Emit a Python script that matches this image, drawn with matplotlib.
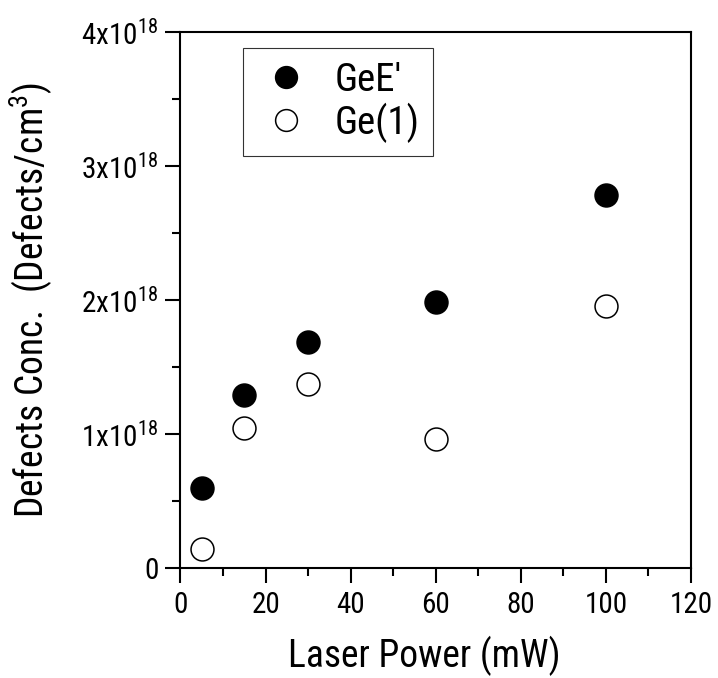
import matplotlib
matplotlib.use("Agg")
import matplotlib.pyplot as plt
from matplotlib.ticker import MultipleLocator, FixedLocator

power = [5, 15, 30, 60, 100]
gee = [0.60e18, 1.29e18, 1.69e18, 1.985e18, 2.78e18]
ge1 = [0.14e18, 1.045e18, 1.37e18, 0.96e18, 1.955e18]
yticks = [0, 1e18, 2e18, 3e18, 4e18]
ylabels = ["0", r"1x10$^{18}$", r"2x10$^{18}$", r"3x10$^{18}$", r"4x10$^{18}$"]

font = 'Roboto Condensed'
plt.rcParams['font.family'] = [font, 'DejaVu Sans']
plt.rcParams['mathtext.fontset'] = 'custom'
plt.rcParams['mathtext.rm'] = font
plt.rcParams['mathtext.it'] = font

W, H = 718, 678
L, R, T, B = 180.5, 691, 32, 568
fig = plt.figure(figsize=(W / 100, H / 100), dpi=100)
ax = fig.add_axes([L / W, (H - B) / H, (R - L) / W, (B - T) / H])

ax.plot(power, gee, 'o', color='black', markersize=16.5, markeredgewidth=1.1,
        label="GeE'", linestyle='none')
ax.plot(power, ge1, 'o', markerfacecolor='white', markeredgecolor='black', markersize=16.5,
        markeredgewidth=1.1, label="Ge(1)", linestyle='none')

ax.set_xlim(0, 120)
ax.set_ylim(0, 4e18)
ax.xaxis.set_major_locator(MultipleLocator(20))
ax.xaxis.set_minor_locator(MultipleLocator(10))
ax.yaxis.set_major_locator(FixedLocator(yticks))
ax.yaxis.set_minor_locator(MultipleLocator(0.5e18))
ax.set_yticklabels(ylabels)

for s in ax.spines.values():
    s.set_linewidth(1.5)
ax.tick_params(which='major', direction='out', length=10.8, width=1.5, labelsize=21)
ax.tick_params(which='minor', direction='out', length=5.8, width=1.5)
ax.tick_params(axis='x', pad=6)
ax.tick_params(axis='y', pad=5)

ax.set_xlabel("Laser Power (mW)", fontsize=27, labelpad=12)
ax.xaxis.label.set_x((424 - L) / (R - L))
ax.set_ylabel(r"Defects Conc.  (Defects/cm$^3$)", fontsize=27)
ax.yaxis.set_label_coords((55 - L) / (R - L), 0.5)

leg = ax.legend(loc='upper left', bbox_to_anchor=((243 - L) / (R - L), (B - 48) / (B - T)),
                borderaxespad=0, fontsize=28, frameon=True, fancybox=False, edgecolor='black',
                handletextpad=0.5, borderpad=0.35, labelspacing=0.1, handlelength=1.5,
                markerscale=0.95)
leg.get_frame().set_linewidth(0.8)

fig.savefig("out.png", dpi=100)
